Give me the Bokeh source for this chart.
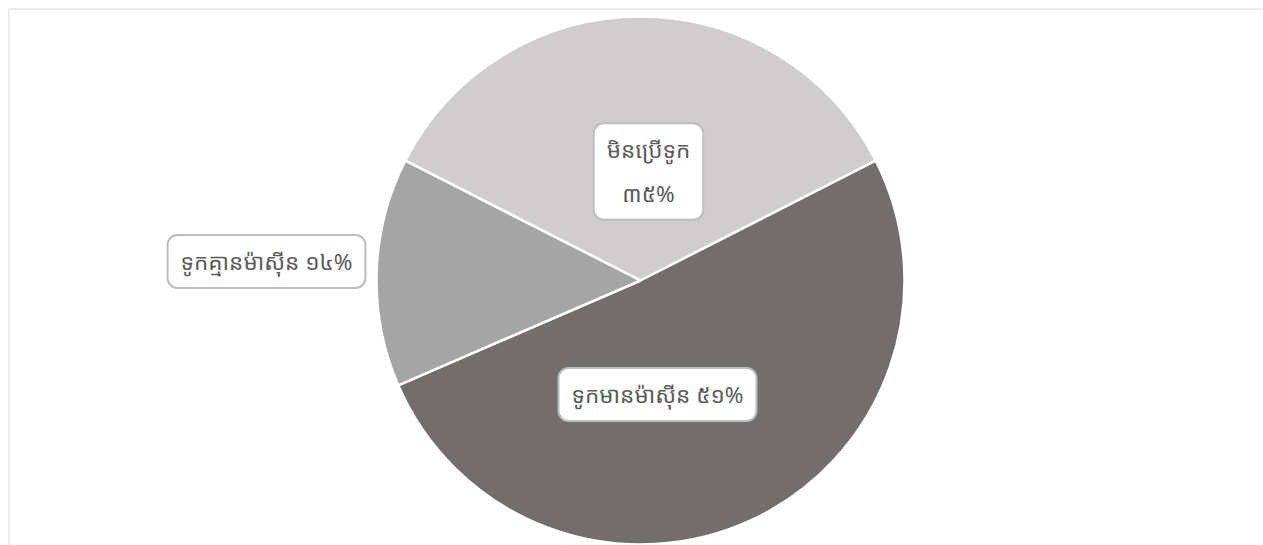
import math
from bokeh.plotting import figure
from bokeh.models import Range1d, ColumnDataSource
from bokeh.core.properties import value
from bokeh.embed import file_html
from bokeh.resources import INLINE

# ---- data ----
categories = ["មិនប្រើទូក", "ទូកមានម៉ាស៊ីន", "ទូកគ្មានម៉ាស៊ីន"]
shares = [35, 51, 14]
pct_labels = ["៣៥%", "៥១%", "១៤%"]
colors = ["#cfcdce", "#736e6d", "#a5a5a5"]

# ---- layout ----
W, H = 1263, 545
cx, cy, R = 640, H - 280, 264
label_text = [categories[0] + "\n" + pct_labels[0],
              categories[1] + " " + pct_labels[1],
              categories[2] + " " + pct_labels[2]]
label_x = [648, 657, 266]
label_y = [H - 171, H - 394, H - 261]

total = sum(shares)
start_theta = -0.5 * shares[0] / total * 360.0  # clockwise from top
starts, ends = [], []
acc = start_theta
for s in shares:
    t0 = acc
    t1 = acc + s / total * 360.0
    starts.append(math.radians(90 - t0))
    ends.append(math.radians(90 - t1))
    acc = t1

p = figure(width=W, height=H, output_backend="svg", toolbar_location=None,
           x_range=Range1d(0, W), y_range=Range1d(0, H), min_border=0)
p.axis.visible = False
p.grid.visible = False
p.outline_line_color = None
p.background_fill_color = "white"
p.border_fill_color = "white"

# outer chart border
p.quad(left=[8.5], right=[W + 50], bottom=[-50], top=[H - 8.5],
       fill_color=None, line_color="#d9d9d9", line_width=1)

src = ColumnDataSource(dict(start=starts, end=ends, color=colors))
p.wedge(x=cx, y=cy, radius=R, start_angle="start", end_angle="end",
        direction="clock", fill_color="color", line_color="white",
        line_width=2.5, source=src)

lsrc = ColumnDataSource(dict(x=label_x, y=label_y, text=label_text))
p.text(x="x", y="y", text="text", source=lsrc,
       text_align="center", text_baseline="middle",
       text_font=value("'Noto Sans Khmer', 'Kantumruy Pro', 'Kantumruy', 'Battambang', 'Khmer OS System', 'Noto Sans'"),
       text_font_size="22.5px",
       text_color="#5a5a5a", text_line_height=1.4,
       background_fill_color="white", border_line_color="#bdbdbd",
       border_line_width=2, padding=dict(left=13, right=13, top=11, bottom=11),
       border_radius=10)

open("out.html", "w").write(file_html(p, INLINE))
